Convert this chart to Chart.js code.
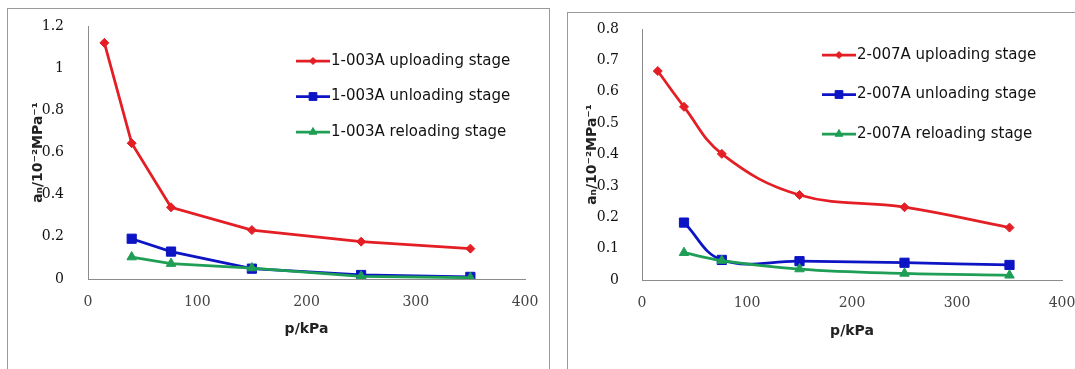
<!DOCTYPE html>
<html>
<head>
<meta charset="utf-8">
<script src="https://cdn.jsdelivr.net/npm/chart.js@4"></script>
<style>
  body { margin: 0; background: #fff; }
  .box { position: absolute; box-sizing: border-box; border: 1px solid #9a9a9a; }
  canvas { position: absolute; }
</style>
</head>
<body>
<div class="box" style="left:7px;top:8px;width:543px;height:400px"></div>
<div class="box" style="left:567px;top:12px;width:600px;height:400px"></div>
<canvas id="chart1" width="541" height="360" style="left:8px;top:9px"></canvas>
<canvas id="chart2" width="507" height="356" style="left:568px;top:13px"></canvas>
<script>
// pressure steps (kPa), the unloading / reloading stages start at the 2nd step
let pressure = [15, 40, 76, 150, 250, 350];

let labels1 = ['1-003A uploading stage', '1-003A unloading stage', '1-003A reloading stage'];
let upload1 = [1.12, 0.644, 0.34, 0.232, 0.177, 0.144];
let unload1 = [0.191, 0.130, 0.049, 0.019, 0.010];
let reload1 = [0.104, 0.073, 0.052, 0.013, 0.006];

let labels2 = ['2-007A uploading stage', '2-007A unloading stage', '2-007A reloading stage'];
let upload2 = [0.666, 0.552, 0.402, 0.271, 0.232, 0.167];
let unload2 = [0.183, 0.064, 0.060, 0.055, 0.048];
let reload2 = [0.087, 0.062, 0.035, 0.021, 0.015];

let colors = ['#e31e24', '#0c14c4', '#1f9e55'];
let markers = ['rectRot', 'rect', 'triangle'];
let markerSize = [4.5, 6.5, 5.5];

function points(xs, ys) {
    return ys.map((y, i) => ({ x: xs[i], y: y }));
}

// legend drawn inside the plot area, Excel style
const insideLegend = {
    id: 'insideLegend',
    afterDraw(chart, args, opts) {
        const ctx = chart.ctx;
        const area = chart.chartArea;
        ctx.save();
        ctx.font = '15px "DejaVu Sans"';
        ctx.textBaseline = 'middle';
        chart.data.datasets.forEach((ds, i) => {
            const x = area.left + opts.x;
            const y = area.top + opts.y + i * opts.gap;
            ctx.strokeStyle = ds.borderColor;
            ctx.fillStyle = ds.borderColor;
            ctx.lineWidth = ds.borderWidth;
            ctx.beginPath();
            ctx.moveTo(x, y);
            ctx.lineTo(x + 34, y);
            ctx.stroke();
            ctx.lineWidth = 1;
            Chart.helpers.drawPoint(ctx, { pointStyle: ds.pointStyle, radius: ds.pointRadius - 1, rotation: 0, borderWidth: 1 }, x + 17, y);
            ctx.fillStyle = '#111';
            ctx.fillText(ds.label, x + 35, y);
        });
        ctx.restore();
    }
};

function makeChart(id, labels, series, cfg) {
    const datasets = series.map((s, i) => ({
        label: labels[i],
        data: points(i === 0 ? pressure : pressure.slice(1), s),
        borderColor: colors[i],
        backgroundColor: colors[i],
        pointBackgroundColor: colors[i],
        pointBorderColor: colors[i],
        borderWidth: 2.75,
        pointStyle: markers[i],
        pointRadius: markerSize[i],
        pointBorderWidth: 1,
        tension: cfg.tension,
        order: 2 - i
    }));

    return new Chart(document.getElementById(id).getContext('2d'), {
        type: 'line',
        data: { datasets: datasets },
        plugins: [insideLegend],
        options: {
            responsive: false,
            animation: false,
            layout: { padding: cfg.padding },
            plugins: {
                legend: { display: false },
                tooltip: { enabled: false },
                insideLegend: cfg.legend
            },
            scales: {
                x: {
                    type: 'linear',
                    min: 0,
                    max: 400,
                    ticks: { stepSize: 100, padding: cfg.xTickPad, color: '#444', font: { family: 'DejaVu Serif', size: 14 } },
                    grid: { display: false },
                    border: { color: '#8c8c8c', width: 1 },
                    title: {
                        display: true,
                        text: 'p/kPa',
                        color: '#222',
                        font: { family: 'DejaVu Sans', size: 14, weight: 'bold' },
                        padding: { top: 0, bottom: cfg.xTitlePad }
                    },
                    afterFit: (scale) => {
                        scale.height = cfg.xHeight;
                        scale.paddingLeft = 0;
                        scale.paddingRight = 0;
                    }
                },
                y: {
                    min: 0,
                    max: cfg.yMax,
                    ticks: {
                        stepSize: cfg.yStep,
                        padding: cfg.yTickPad,
                        color: '#111',
                        font: { family: 'DejaVu Serif', size: 14 },
                        callback: (v) => String(+v.toFixed(2))
                    },
                    grid: { display: false },
                    border: { color: '#8c8c8c', width: 1 },
                    title: {
                        display: true,
                        text: 'aₙ/10⁻²MPa⁻¹',
                        color: '#222',
                        font: { family: 'DejaVu Sans', size: 14, weight: 'bold' },
                        padding: { top: cfg.yTitlePad, bottom: 0 }
                    },
                    afterFit: (scale) => {
                        scale.width = cfg.yWidth;
                        scale.paddingTop = 0;
                        scale.paddingBottom = 0;
                    }
                }
            }
        }
    });
}

makeChart('chart1', labels1, [upload1, unload1, reload1], {
    tension: 0,
    padding: { left: 14, top: 17, right: 24, bottom: 0 },
    yMax: 1.2, yStep: 0.2,
    yWidth: 66, yTickPad: 16, yTitlePad: 8,
    xHeight: 90, xTickPad: 7, xTitlePad: 31,
    legend: { x: 208, y: 35, gap: 35.5 }
});

makeChart('chart2', labels2, [upload2, unload2, reload2], {
    tension: 0.4,
    padding: { left: 6, top: 16, right: 13, bottom: 0 },
    yMax: 0.8, yStep: 0.1,
    yWidth: 68, yTickPad: 15, yTitlePad: 10,
    xHeight: 89, xTickPad: 7, xTitlePad: 29,
    legend: { x: 180, y: 26, gap: 39.5 }
});
</script>
</body>
</html>
